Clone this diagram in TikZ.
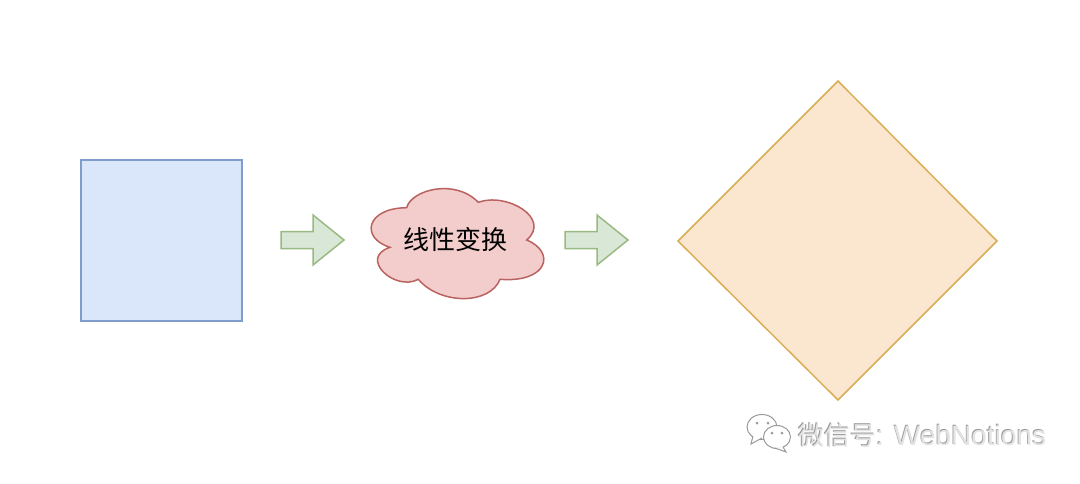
\documentclass[tikz,border=0pt]{standalone}
\usepackage{fontspec}
\setmainfont{Liberation Sans}
\newfontfamily\cjk{Noto Sans CJK SC}
\definecolor{squarefill}{HTML}{DAE6FA}
\definecolor{squareline}{HTML}{7F9DCB}
\definecolor{diamondfill}{HTML}{FBE6CF}
\definecolor{diamondline}{HTML}{D9AE55}
\definecolor{arrowfill}{HTML}{D9E8D6}
\definecolor{arrowline}{HTML}{98BA80}
\definecolor{cloudfill}{HTML}{F3CDCC}
\definecolor{cloudline}{HTML}{B9625F}
\definecolor{markgray}{HTML}{9A9A9A}
\definecolor{marklight}{HTML}{E4E4E4}

\newcommand{\marktext}{{\cjk\fontsize{26}{26}\selectfont 微信号}{\fontsize{28}{28}\selectfont: WebNotions}}

\begin{document}
\begin{tikzpicture}[
    x=1pt, y=-1pt,
    square/.style={draw=squareline, fill=squarefill, line width=1.5pt},
    rhomb/.style={draw=diamondline, fill=diamondfill, line width=1.5pt, line join=miter},
    block arrow/.style={draw=arrowline, fill=arrowfill, line width=1.5pt, line join=miter},
    puff/.style={draw=cloudline, fill=cloudfill, line width=1.5pt},
    puff text/.style={font=\cjk\fontsize{26}{26}\selectfont, text=black, inner sep=0pt},
    mark text/.style={inner sep=0pt, anchor=west},
    bubble/.style={draw=markgray, fill=white, line width=1pt}
    ]
    \useasboundingbox (0,0) rectangle (1080,483);
    % square
    \draw[square] (81,160) rectangle (242,321);
    % arrows
    \foreach \xstart in {281,565} {
        \draw[block arrow, shift={(\xstart,240)}] (0,-8.5) -- (32,-8.5) -- (32,-25)
            -- (63,0) -- (32,25) -- (32,8.5) -- (0,8.5) -- cycle;
    }
    % cloud
    \draw[puff] (406.7,207.7)
        .. controls (411,190) and (455,178) .. (478.3,202.3)
        .. controls (506,192) and (552,218) .. (526.7,240)
        .. controls (556,252) and (548,283) .. (500,279.3)
        .. controls (490,305) and (440,305) .. (418.3,279.3)
        .. controls (395,292) and (358,258) .. (390,247.3)
        .. controls (360,238) and (366,208) .. (406.7,207.7) -- cycle;
    \node[puff text] (label) at (455,240) {线性变换};
    % diamond
    \draw[rhomb] (678,241) -- (838,81) -- (997,241) -- (838,400) -- cycle;
    % watermark
    \draw[bubble] (762,427) ellipse (15 and 12.5);
    \draw[bubble] (753,436) -- (751,444) -- (762,438);
    \draw[bubble] (777,437) ellipse (13.5 and 11.5);
    \draw[bubble] (783,447) -- (786,452) -- (775,448);
    \fill[markgray] (757,423) circle (1.5) (768,423) circle (1.5)
        (772,433) circle (1.5) (782,433) circle (1.5);
    \node[mark text, text=markgray] (mark) at (797,435) {\marktext};
    \node[mark text, text=marklight] (marktop) at (797.8,435.7) {\marktext};
\end{tikzpicture}
\end{document}
